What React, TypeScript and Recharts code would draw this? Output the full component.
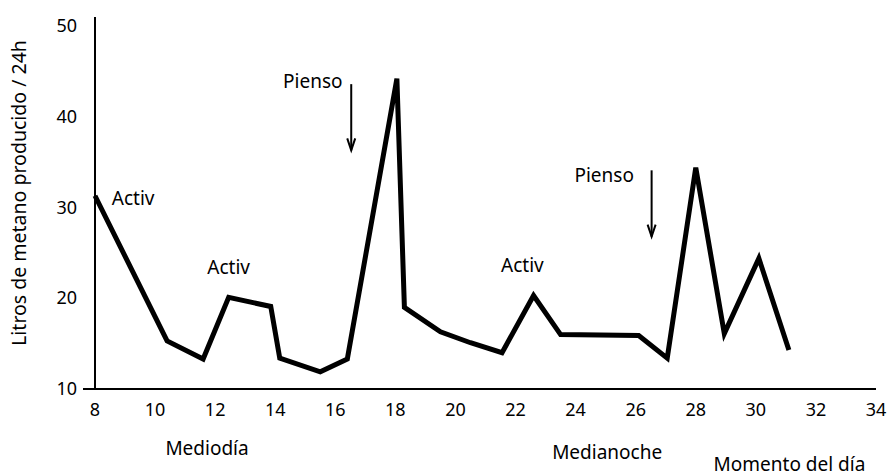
import { LineChart, Line, XAxis, YAxis, ReferenceDot, ReferenceLine } from 'recharts'

// hour of day (8 = 8:00, 24 = midnight, beyond 24 = next day)
const hours = [8, 10.4, 11.6, 12.45, 13.85, 14.15, 15.5, 16.4, 18.05, 18.3, 19.5, 20.5, 21.55, 22.6, 23.5, 26.1, 27.05, 28.0, 28.95, 30.1, 31.1]
const methane = [31.3, 15.3, 13.3, 20.1, 19.1, 13.4, 11.9, 13.3, 44.2, 19.0, 16.3, 15.1, 14.0, 20.3, 16.0, 15.9, 13.4, 34.4, 16.1, 24.4, 14.3]

const xTicks = [8, 10, 12, 14, 16, 18, 20, 22, 24, 26, 28, 30, 32, 34]
const yTicks = [10, 20, 30, 40, 50]

// text notes, placed in data coordinates (text centre)
const notes = [
  { text: 'Activ', x: 9.27, y: 31.06 },
  { text: 'Activ', x: 12.45, y: 23.45 },
  { text: 'Activ', x: 22.23, y: 23.67 },
  { text: 'Pienso', x: 15.25, y: 43.96 },
  { text: 'Pienso', x: 24.95, y: 33.6 },
  { text: 'Mediodía', x: 11.73, y: 3.5 },
  { text: 'Medianoche', x: 25.05, y: 3.05 },
  { text: 'Momento del día', x: 31.12, y: 1.75 },
]

// feeding arrows: x, top, bottom
const arrows = [
  { x: 16.53, from: 43.6, to: 36.3 },
  { x: 26.53, from: 34.1, to: 26.8 },
]

const rows = hours.map((h, i) => ({ hour: h, value: methane[i] }))

const FONT = '"Noto Sans", sans-serif'

function YTick(props: any) {
  const { x, y, payload } = props
  return (
    <g>
      <text x={x} y={y} dy={6} textAnchor="end" fontSize={18} fill="#000" fontFamily={FONT}>
        {payload.value}
      </text>
      {payload.value === 10 && <line x1={x + 6} y1={y} x2={x + 18} y2={y} stroke="#000" strokeWidth={2} />}
    </g>
  )
}

function YLabel(props: any) {
  const { viewBox } = props
  const cx = 18
  const cy = viewBox.y + viewBox.height / 2 - 10
  return (
    <text x={cx} y={cy} transform={`rotate(-90 ${cx} ${cy})`} textAnchor="middle" dominantBaseline="central"
      fontSize={19.5} fill="#000" fontFamily={FONT}>
      Litros de metano producido / 24h
    </text>
  )
}

function Arrow(props: any) {
  const { x1, y1, x2, y2 } = props
  return (
    <g stroke="#000" strokeWidth={2} fill="none">
      <line x1={x1} y1={y1} x2={x2} y2={y2} />
      <path d={`M${x2 - 4},${y2 - 12} L${x2},${y2} L${x2 + 4},${y2 - 12}`} />
    </g>
  )
}

export default function App() {
  return (
    <div style={{ position: 'absolute', left: 0, top: 0, background: '#fff' }}>
      <LineChart width={887} height={476} data={rows} margin={{ top: 17, right: 11, bottom: 57, left: 0 }}>
        <XAxis dataKey="hour" type="number" domain={[8, 34]} ticks={xTicks} interval={0}
          axisLine={{ stroke: '#000', strokeWidth: 2 }} tickLine={false} tickMargin={8} height={30}
          tick={{ fill: '#000', fontSize: 18, fontFamily: FONT }} />
        <YAxis type="number" domain={[10, 51]} ticks={yTicks} interval={0} width={95}
          axisLine={{ stroke: '#000', strokeWidth: 2 }} tickLine={false} tickMargin={12}
          tick={<YTick />} label={<YLabel />} />
        <Line type="linear" dataKey="value" stroke="#000" strokeWidth={5} dot={false}
          strokeLinejoin="miter" isAnimationActive={false} />
        {arrows.map((a, i) => (
          <ReferenceLine key={`a${i}`} segment={[{ x: a.x, y: a.from }, { x: a.x, y: a.to }]}
            ifOverflow="visible" shape={<Arrow />} />
        ))}
        {notes.map((n, i) => (
          <ReferenceDot key={`n${i}`} x={n.x} y={n.y} r={0} ifOverflow="visible"
            shape={(p: any) => (
              <text x={p.cx} y={p.cy} textAnchor="middle" dominantBaseline="central"
                fontSize={19} fill="#000" fontFamily={FONT}>{n.text}</text>
            )} />
        ))}
      </LineChart>
    </div>
  )
}
